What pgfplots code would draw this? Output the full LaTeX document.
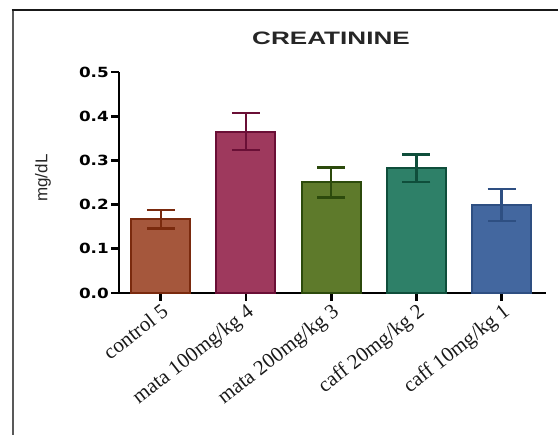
\documentclass[border=0pt]{standalone}
\usepackage{fontspec}
\setmainfont{Liberation Serif}
\newfontfamily\titlefont[FakeStretch=1.45]{Liberation Sans Bold}
\newfontfamily\tickfont[FakeStretch=1.2]{DejaVu Sans Bold}
\newfontfamily\ylabfont{Liberation Sans}
\newfontfamily\xlabfont{Liberation Serif}
\usepackage{pgfplots}
\pgfplotsset{compat=1.18}
\definecolor{f1}{HTML}{A5573C}\definecolor{e1}{HTML}{7A2A0E}
\definecolor{f2}{HTML}{9E395D}\definecolor{e2}{HTML}{6A0F36}
\definecolor{f3}{HTML}{5E7A2B}\definecolor{e3}{HTML}{2C4A0C}
\definecolor{f4}{HTML}{2E8068}\definecolor{e4}{HTML}{0F4E3B}
\definecolor{f5}{HTML}{43679F}\definecolor{e5}{HTML}{2E4F82}
\pgfplotsset{
  mybar/.style n args={2}{ybar, bar width=59pt, bar shift=0pt, fill=#1, draw=#2, line width=2pt,
    error bars/.cd, y dir=both, y explicit,
    error bar style={#2, line width=2.5pt},
    error mark options={rotate=90, mark size=14pt, line width=2.5pt, #2}}
}
\begin{document}
\begin{tikzpicture}
\path[use as bounding box] (0,0) rectangle (558pt,435pt);
\draw[line width=2.2pt, black!65] (12.8pt,0pt) -- (12.8pt,425pt);
\draw[line width=1.8pt, black!90] (11.7pt,425pt) -- (558pt,425pt);
\begin{axis}[
  at={(119pt,142pt)}, anchor=south west,
  scale only axis, width=427pt, height=221pt,
  xmin=-0.49, xmax=4.52, ymin=0, ymax=0.5,
  enlargelimits=false,
  axis lines=left, axis line style={-, line width=2.5pt, black},
  tick align=outside, major tick length=8pt,
  tick style={line width=2.8pt, black},
  xtick={0,1,2,3,4},
  xticklabels={control 5, mata 100mg/kg 4, mata 200mg/kg 3, caff 20mg/kg 2, caff 10mg/kg 1},
  xticklabel style={rotate=38, anchor=north east, font=\xlabfont\fontsize{21}{22}\selectfont, inner sep=1pt, text=black!90},
  ytick={0,0.1,0.2,0.3,0.4,0.5},
  yticklabel style={font=\tickfont\fontsize{14}{15}\selectfont, /pgf/number format/fixed, /pgf/number format/precision=1, /pgf/number format/fixed zerofill, /pgf/number format/assume math mode=true, inner sep=2pt},
  clip=false,
]
\addplot[mybar={f1}{e1}] coordinates {(0,0.167) +- (0,0.021)};
\addplot[mybar={f2}{e2}] coordinates {(1,0.365) +- (0,0.042)};
\addplot[mybar={f3}{e3}] coordinates {(2,0.250) +- (0,0.034)};
\addplot[mybar={f4}{e4}] coordinates {(3,0.282) +- (0,0.031)};
\addplot[mybar={f5}{e5}] coordinates {(4,0.199) +- (0,0.036)};
\end{axis}
\node[font=\titlefont\fontsize{18}{20}\selectfont, text=black!85] at (331pt,397pt) {CREATININE};
\node[rotate=90, font=\ylabfont\fontsize{17}{19}\selectfont, text=black!85] at (43pt,257pt) {mg/dL};
\end{tikzpicture}
\end{document}
